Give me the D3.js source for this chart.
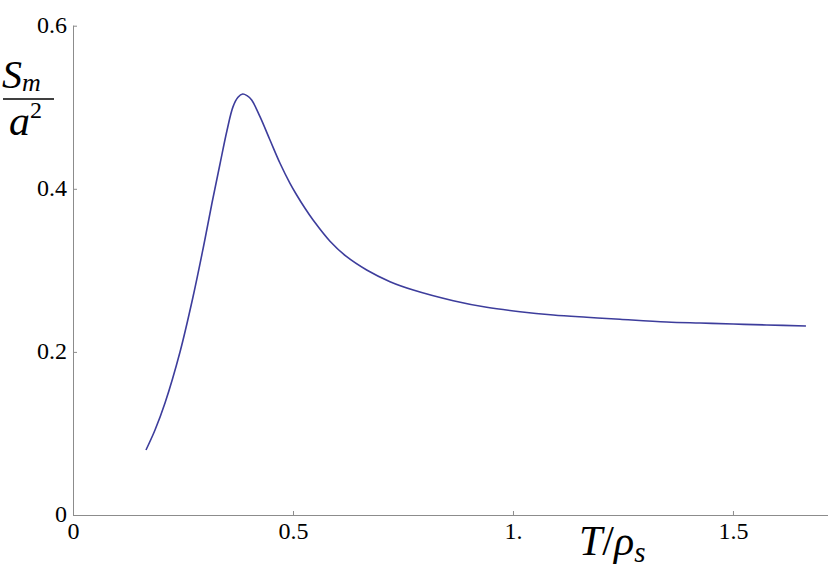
<!DOCTYPE html>
<html>
<head>
<meta charset="utf-8">
<script src="https://cdn.jsdelivr.net/npm/d3@7"></script>
<style>
  html, body { margin: 0; padding: 0; background: #fff; }
  svg { display: block; }
  text { font-family: "Liberation Serif", "Times New Roman", serif; fill: #000; }
</style>
</head>
<body>
<svg id="chart" width="830" height="579"></svg>
<script>
// Data
const tValues = [0.1659, 0.1864, 0.2091, 0.2432, 0.2727, 0.2955, 0.3159, 0.3341, 0.3500, 0.3636, 0.3750, 0.3857, 0.3955, 0.4061, 0.4250, 0.4477, 0.4705, 0.4932, 0.5084, 0.5273, 0.5461, 0.5841, 0.6220, 0.6675, 0.7205, 0.7734, 0.8643, 0.9402, 1.0159, 1.0916, 1.1675, 1.2432, 1.3493, 1.4250, 1.5007, 1.5766, 1.6659];
const sValues = [0.0797, 0.1042, 0.1373, 0.1999, 0.2673, 0.3262, 0.3826, 0.4304, 0.4715, 0.5005, 0.5122, 0.5162, 0.5142, 0.5089, 0.4884, 0.4598, 0.4313, 0.4067, 0.3924, 0.3761, 0.3614, 0.3357, 0.3167, 0.3004, 0.2861, 0.2759, 0.2628, 0.2547, 0.2493, 0.2453, 0.2425, 0.2400, 0.2367, 0.2354, 0.2342, 0.2330, 0.2318];
const xTicks = [0, 0.5, 1, 1.5];
const xTickLabels = ["0", "0.5", "1.", "1.5"];
const yTicks = [0, 0.2, 0.4, 0.6];
const yTickLabels = ["0", "0.2", "0.4", "0.6"];

const svg = d3.select("#chart");
const x = d3.scaleLinear().domain([0, 1.716]).range([73, 828]);
const y = d3.scaleLinear().domain([0, 0.6]).range([515, 25.7]);
const axisColor = "#8c8c8c";

// x axis
const xAxis = d3.axisBottom(x).tickValues(xTicks).tickSizeInner(-4).tickSizeOuter(0).tickFormat((d, i) => xTickLabels[i]);
const gx = svg.append("g").attr("transform", `translate(0,${y(0)})`).call(xAxis);
gx.select(".domain").attr("stroke", axisColor).attr("d", `M${x.range()[0]},0.5H${x.range()[1]}`);
gx.selectAll(".tick line").attr("stroke", axisColor);
gx.selectAll(".tick text").attr("y", 24).attr("dy", null).style("font-size", "24px");

// y axis
const yAxis = d3.axisLeft(y).tickValues(yTicks).tickSizeInner(-4).tickSizeOuter(0).tickFormat((d, i) => yTickLabels[i]);
const gy = svg.append("g").attr("transform", `translate(${x(0)},0)`).call(yAxis);
gy.select(".domain").attr("stroke", axisColor).attr("d", `M0.5,${y.range()[0]}V${y.range()[1]}`);
gy.selectAll(".tick line").attr("stroke", axisColor);
gy.selectAll(".tick text").attr("x", -6).attr("dy", "0.27em").style("font-size", "24px");

// curve
const data = tValues.map((t, i) => [t, sValues[i]]);
const line = d3.line().x(d => x(d[0])).y(d => y(d[1])).curve(d3.curveCatmullRom.alpha(0.5));
svg.append("path").datum(data).attr("d", line)
  .attr("fill", "none").attr("stroke", "#3d3d9c").attr("stroke-width", 1.6);

// x axis label: T/ρ_s
const xl = svg.append("text").attr("x", 579).attr("y", 555).style("font-size", "42px");
xl.append("tspan").style("font-style", "italic").text("T");
xl.append("tspan").text("/");
xl.append("tspan").style("font-style", "italic").text("ρ");
xl.append("tspan").style("font-style", "italic").style("font-size", "29px").attr("dy", 7).text("s");

// y axis label: S_m / a^2
const yl1 = svg.append("text").attr("x", 2).attr("y", 88).style("font-size", "40px");
yl1.append("tspan").style("font-style", "italic").text("S");
yl1.append("tspan").style("font-style", "italic").style("font-size", "26px").attr("dy", 3).text("m");
svg.append("line").attr("x1", 3).attr("x2", 54).attr("y1", 99).attr("y2", 99).attr("stroke", "#000").attr("stroke-width", 1.6);
const yl2 = svg.append("text").attr("x", 9).attr("y", 135).style("font-size", "42px");
yl2.append("tspan").style("font-style", "italic").text("a");
yl2.append("tspan").style("font-size", "24px").attr("dy", -17).text("2");
</script>
</body>
</html>
